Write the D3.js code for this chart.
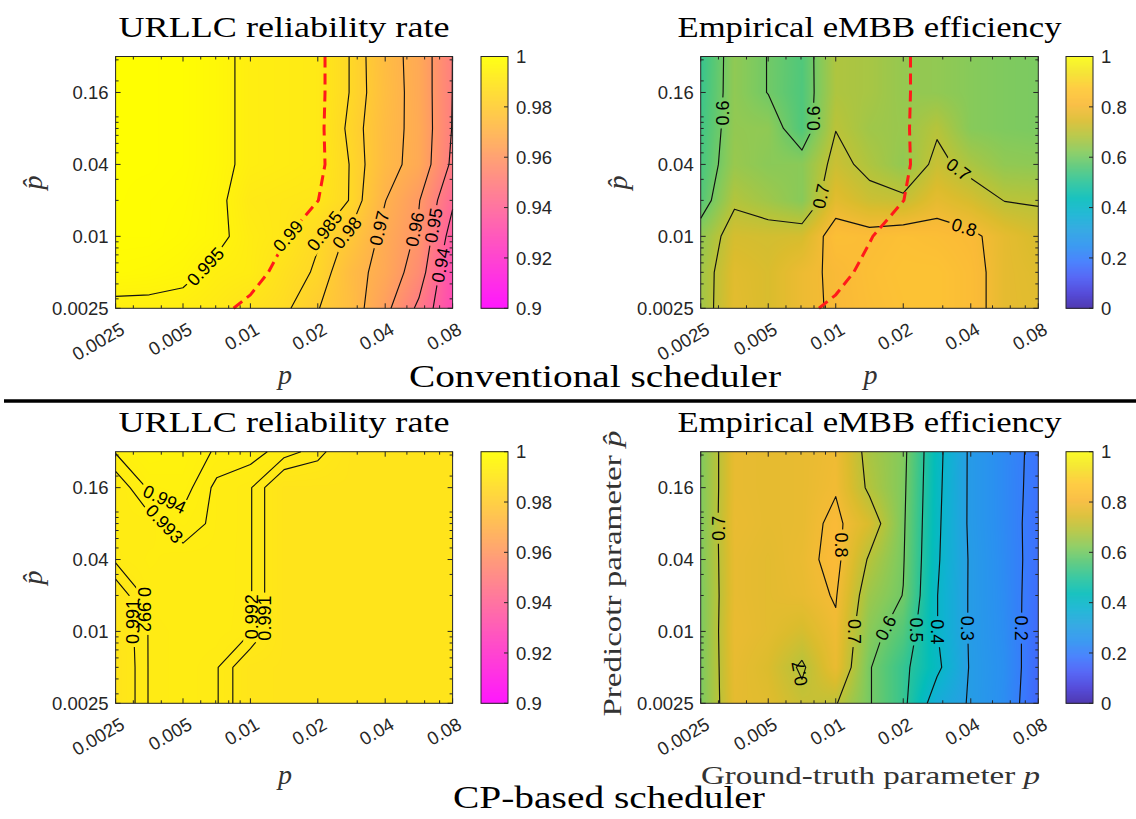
<!DOCTYPE html>
<html>
<head>
<meta charset="utf-8">
<script src="https://cdn.jsdelivr.net/npm/d3@7"></script>
<style>
  body { margin: 0; background: #fff; }
  svg { display: block; }
</style>
</head>
<body>
<svg id="fig" width="1136" height="819"></svg>
<script>
// ---------------------------------------------------------------
// Grid of the simulation: ground-truth p (columns), predictor p̂ (rows)
// ---------------------------------------------------------------
const pGrid = [0.0025, 0.003536, 0.005, 0.007071, 0.01, 0.01414, 0.02, 0.02828, 0.04, 0.05657, 0.08];
const pHatGrid = [0.0025, 0.005, 0.01, 0.02, 0.04, 0.08, 0.16, 0.32];

const pTicks = [0.0025, 0.005, 0.01, 0.02, 0.04, 0.08];
const pTickLabels = ["0.0025", "0.005", "0.01", "0.02", "0.04", "0.08"];
const pMinorTicks = [0.003, 0.004, 0.006, 0.007, 0.008, 0.009, 0.03, 0.05, 0.06, 0.07];
const pHatTicks = [0.0025, 0.01, 0.04, 0.16];
const pHatTickLabels = ["0.0025", "0.01", "0.04", "0.16"];
const pHatMinorTicks = [0.003, 0.004, 0.005, 0.006, 0.007, 0.008, 0.009, 0.02, 0.03, 0.05, 0.06, 0.07, 0.08, 0.09, 0.1, 0.2, 0.3];

const reliabilityTicks = [0.9, 0.92, 0.94, 0.96, 0.98, 1];
const reliabilityTickLabels = ["0.9", "0.92", "0.94", "0.96", "0.98", "1"];
const efficiencyTicks = [0, 0.2, 0.4, 0.6, 0.8, 1];
const efficiencyTickLabels = ["0", "0.2", "0.4", "0.6", "0.8", "1"];

// rows follow pHatGrid (0.0025 first), columns follow pGrid
const convReliability = [
  [0.9935, 0.9935, 0.993, 0.9915, 0.9885, 0.9862, 0.9803, 0.9745, 0.9625, 0.948, 0.929],
  [0.998, 0.9975, 0.9965, 0.9935, 0.9925, 0.9878, 0.9842, 0.9737, 0.9663, 0.955, 0.93],
  [0.999, 0.999, 0.998, 0.9965, 0.9925, 0.9905, 0.9855, 0.9783, 0.9674, 0.9585, 0.9355],
  [0.9995, 0.999, 0.9985, 0.9965, 0.9915, 0.9907, 0.9901, 0.9845, 0.9702, 0.9605, 0.9415],
  [0.9995, 0.9995, 0.999, 0.997, 0.9933, 0.9925, 0.9915, 0.9845, 0.9733, 0.9667, 0.948],
  [0.9995, 0.9995, 0.999, 0.997, 0.9933, 0.9925, 0.9915, 0.9834, 0.9737, 0.9671, 0.9495],
  [0.9995, 0.9995, 0.999, 0.997, 0.9933, 0.9925, 0.9915, 0.9845, 0.9745, 0.9666, 0.9498],
  [0.9995, 0.9995, 0.999, 0.997, 0.9933, 0.9925, 0.9915, 0.9845, 0.974, 0.9665, 0.9499]
];

const convEfficiency = [
  [0.66, 0.765, 0.745, 0.785, 0.808, 0.83, 0.845, 0.85, 0.825, 0.77, 0.76],
  [0.66, 0.76, 0.745, 0.785, 0.81, 0.835, 0.85, 0.85, 0.825, 0.77, 0.755],
  [0.64, 0.74, 0.735, 0.74, 0.835, 0.825, 0.84, 0.83, 0.815, 0.77, 0.74],
  [0.56, 0.687, 0.659, 0.626, 0.765, 0.725, 0.715, 0.77, 0.74, 0.698, 0.692],
  [0.545, 0.65, 0.63, 0.63, 0.723, 0.68, 0.64, 0.72, 0.675, 0.64, 0.635],
  [0.535, 0.642, 0.637, 0.555, 0.698, 0.66, 0.65, 0.691, 0.625, 0.615, 0.61],
  [0.525, 0.638, 0.598, 0.555, 0.68, 0.67, 0.645, 0.64, 0.625, 0.615, 0.61],
  [0.52, 0.638, 0.598, 0.557, 0.68, 0.67, 0.645, 0.64, 0.625, 0.615, 0.61]
];

const cpReliability = [
  [0.9895, 0.9921, 0.9925, 0.9921, 0.9898, 0.9895, 0.9895, 0.9895, 0.9895, 0.9895, 0.9895],
  [0.9895, 0.9921, 0.9925, 0.9921, 0.9898, 0.9895, 0.9895, 0.9895, 0.9895, 0.9895, 0.9895],
  [0.9897, 0.9921, 0.9925, 0.9925, 0.9921, 0.9895, 0.9895, 0.9895, 0.9895, 0.9895, 0.9895],
  [0.990, 0.9925, 0.9926, 0.9926, 0.9921, 0.9895, 0.9895, 0.9895, 0.9895, 0.9895, 0.9895],
  [0.9922, 0.9928, 0.9925, 0.9926, 0.9921, 0.9895, 0.9895, 0.9895, 0.9895, 0.9895, 0.9895],
  [0.9925, 0.9925, 0.9936, 0.9927, 0.9921, 0.9895, 0.9895, 0.9895, 0.9895, 0.9895, 0.9895],
  [0.9921, 0.9942, 0.9945, 0.9927, 0.9921, 0.9895, 0.9895, 0.9895, 0.9895, 0.9895, 0.9895],
  [0.9941, 0.9955, 0.995, 0.9938, 0.9935, 0.9925, 0.9915, 0.9895, 0.9895, 0.9895, 0.9895]
];

const cpEfficiency = [
  [0.61, 0.77, 0.76, 0.72, 0.705, 0.605, 0.52, 0.351, 0.292, 0.24, 0.15],
  [0.61, 0.775, 0.75, 0.69, 0.78, 0.605, 0.52, 0.4175, 0.292, 0.245, 0.155],
  [0.61, 0.78, 0.765, 0.74, 0.79, 0.629, 0.56, 0.402, 0.29, 0.24, 0.16],
  [0.61, 0.775, 0.765, 0.775, 0.805, 0.655, 0.598, 0.402, 0.29, 0.237, 0.165],
  [0.615, 0.775, 0.765, 0.78, 0.82, 0.69, 0.605, 0.41, 0.29, 0.235, 0.17],
  [0.615, 0.78, 0.77, 0.775, 0.815, 0.745, 0.61, 0.415, 0.285, 0.233, 0.17],
  [0.615, 0.775, 0.77, 0.775, 0.795, 0.686, 0.615, 0.42, 0.285, 0.232, 0.175],
  [0.615, 0.775, 0.77, 0.775, 0.79, 0.673, 0.62, 0.425, 0.285, 0.232, 0.178]
];

// contour levels
const convReliabilityLevels = [0.94, 0.95, 0.96, 0.97, 0.98, 0.985, 0.99, 0.995];
const convEfficiencyLevels = [0.6, 0.7, 0.8];
const cpReliabilityLevels = [0.991, 0.992, 0.993, 0.994];
const cpEfficiencyLevels = [0.2, 0.3, 0.4, 0.5, 0.6, 0.7, 0.8];
const reliabilityTarget = 0.99;

// where along each contour its label sits: [level, column index, row index, angle?, keep line?]
const convReliabilityLabelAt = [[0.995, 2.62, 1.2], [0.99, 5.08, 2.04], [0.985, 6.16, 2.18], [0.98, 6.76, 2.18],
  [0.97, 7.8, 2.23], [0.96, 8.69, 2.23], [0.95, 9.33, 2.32], [0.94, 9.63, 1.2]];
const convEfficiencyLabelAt = [[0.6, 0.65, 5.43, -90], [0.6, 3.14, 5.29, -90], [0.7, 3.58, 3.11], [0.7, 7.78, 4.04], [0.8, 7.78, 2.18]];
const cpReliabilityLabelAt = [[0.994, 1.42, 5.61], [0.993, 1.56, 5.1], [0.992, 0.77, 2.6, 90], [0.991, 0.45, 2.27, -90],
  [0.992, 3.89, 2.41, -90], [0.991, 4.38, 2.37, -90]];
const cpEfficiencyLabelAt = [[0.7, 0.49, 4.87, -90], [0.8, 4.27, 4.4, 90], [0.7, 4.62, 1.99, 90], [0.6, 5.41, 2.13],
  [0.5, 6.4, 2.04, 90], [0.4, 6.99, 1.99, 90], [0.3, 7.78, 2.09, 90], [0.2, 9.6, 2.09, 90], [0.7, 2.84, 0.79, -100, true]];

// ---------------------------------------------------------------
// colour maps
// ---------------------------------------------------------------
const springColor = d3.scaleLinear().domain([0.9, 1]).range(["#ff00ff", "#ffff00"]).clamp(true);
const parulaHex = ["#3e26a8", "#463cd7", "#485af5", "#3a78fd", "#2a91f0", "#24a2e1", "#10b2d2", "#04bdba",
  "#28c39b", "#55c878", "#87ca5a", "#b4c43c", "#dcbc2d", "#faba37", "#fec832", "#f5e224", "#f9fb15"];
const parulaStops = parulaHex.map((_, i) => i / (parulaHex.length - 1));
const parulaColor = d3.scaleLinear().domain(parulaStops).range(parulaHex).clamp(true);

// ---------------------------------------------------------------
// layout
// ---------------------------------------------------------------
const colGeom = [
  { x0: 115.6, x1: 452.6, cb0: 481, cb1: 508, center: 284 },
  { x0: 700.7, x1: 1038.3, cb0: 1066, cb1: 1093, center: 869.5 }
];
const rowGeom = [
  { top: 56.5, bot: 308.3, titleY: 37, xLabelY: 384 },
  { top: 451.7, bot: 703.3, titleY: 432, xLabelY: 784 }
];

const TICK_FONT = "'Liberation Sans', Arial, Helvetica, sans-serif";
const SERIF = "'Liberation Serif', 'Times New Roman', serif";
const AXIS_COLOR = "#262626";
const TICK_SIZE = 18.5;

const svg = d3.select("#fig");
const defs = svg.append("defs");

// turns the grid into open/closed isolines in (column, row) index space
function isolines(values, level) {
  const nx = values[0].length, ny = values.length;
  const flat = values.flat();
  const mp = d3.contours().size([nx, ny]).thresholds([level])(flat)[0];
  const onFrame = pt => pt[0] === 0 || pt[0] === nx || pt[1] === 0 || pt[1] === ny;
  const lines = [];
  mp.coordinates.forEach(poly => poly.forEach(ring => {
    const pts = ring.slice(0, -1);
    const n = pts.length;
    const frame = pts.map(onFrame);
    if (!frame.some(Boolean)) {
      lines.push(pts.concat([pts[0]]));
      return;
    }
    const start = frame.indexOf(true);
    let cur = [];
    for (let k = 1; k <= n; k++) {
      const i = (start + k) % n;
      if (frame[i]) { if (cur.length > 1) lines.push(cur); cur = []; }
      else cur.push(pts[i]);
    }
    if (cur.length > 1) lines.push(cur);
  }));
  return lines.map(l => l.map(([x, y]) => [x - 0.5, y - 0.5]));
}

function nearestOnLines(lines, px, py) {
  let best = null;
  lines.forEach(l => {
    for (let i = 0; i < l.length - 1; i++) {
      const [ax, ay] = l[i], [bx, by] = l[i + 1];
      const dx = bx - ax, dy = by - ay;
      const L2 = dx * dx + dy * dy || 1e-9;
      let t = ((px - ax) * dx + (py - ay) * dy) / L2;
      t = Math.max(0, Math.min(1, t));
      const qx = ax + t * dx, qy = ay + t * dy;
      const d = (qx - px) ** 2 + (qy - py) ** 2;
      if (!best || d < best.d) best = { d, x: qx, y: qy, dx, dy };
    }
  });
  return best;
}

const panels = [
  { values: convReliability, color: springColor, cbDomain: [0.9, 1], cbTicks: reliabilityTicks, cbLabels: reliabilityTickLabels,
    levels: convReliabilityLevels, labelAt: convReliabilityLabelAt, target: reliabilityTarget,
    title: "URLLC reliability rate", col: 0, row: 0 },
  { values: convEfficiency, color: parulaColor, cbDomain: [0, 1], cbTicks: efficiencyTicks, cbLabels: efficiencyTickLabels,
    levels: convEfficiencyLevels, labelAt: convEfficiencyLabelAt, overlay: convReliability,
    title: "Empirical eMBB efficiency", col: 1, row: 0 },
  { values: cpReliability, color: springColor, cbDomain: [0.9, 1], cbTicks: reliabilityTicks, cbLabels: reliabilityTickLabels,
    levels: cpReliabilityLevels, labelAt: cpReliabilityLabelAt,
    title: "URLLC reliability rate", col: 0, row: 1 },
  { values: cpEfficiency, color: parulaColor, cbDomain: [0, 1], cbTicks: efficiencyTicks, cbLabels: efficiencyTickLabels,
    levels: cpEfficiencyLevels, labelAt: cpEfficiencyLabelAt,
    title: "Empirical eMBB efficiency", col: 1, row: 1, longLabels: true }
];

panels.forEach((spec, idx) => {
  const { x0, x1, cb0, cb1, center } = colGeom[spec.col];
  const { top, bot, titleY, xLabelY } = rowGeom[spec.row];
  const g = svg.append("g");

  const xScale = d3.scaleLog().domain([pTicks[0], pTicks[pTicks.length - 1]]).range([x0, x1]);
  const yScale = d3.scaleLog().domain([pHatGrid[0], pHatGrid[pHatGrid.length - 1]]).range([bot, top]);
  const nx = pGrid.length, ny = pHatGrid.length;
  const colX = d3.scaleLinear().domain([0, nx - 1]).range([xScale(pGrid[0]), xScale(pGrid[nx - 1])]);
  const rowY = d3.scaleLinear().domain([0, ny - 1]).range([yScale(pHatGrid[0]), yScale(pHatGrid[ny - 1])]);
  const colOf = d3.scaleLog().domain([pGrid[0], pGrid[nx - 1]]).range([0, nx - 1]).clamp(true);
  const rowOf = d3.scaleLog().domain([pHatGrid[0], pHatGrid[ny - 1]]).range([0, ny - 1]).clamp(true);

  // interpolated colour field
  const vals = spec.values;
  const [d0, d1] = spec.cbDomain;
  const lut = d3.range(1024).map(k => d3.rgb(spec.color(d0 + (d1 - d0) * k / 1023)));
  const W = Math.round(x1 - x0), H = Math.round(bot - top);
  const canvas = document.createElement("canvas");
  canvas.width = W; canvas.height = H;
  const ctx = canvas.getContext("2d");
  const img = ctx.createImageData(W, H);
  for (let j = 0; j < H; j++) {
    const r = rowOf(yScale.invert(top + (j + 0.5) * (bot - top) / H));
    const r0 = Math.min(Math.floor(r), ny - 2), fr = r - r0;
    for (let i = 0; i < W; i++) {
      const c = colOf(xScale.invert(x0 + (i + 0.5) * (x1 - x0) / W));
      const c0 = Math.min(Math.floor(c), nx - 2), fc = c - c0;
      const v = (1 - fr) * ((1 - fc) * vals[r0][c0] + fc * vals[r0][c0 + 1]) +
                fr * ((1 - fc) * vals[r0 + 1][c0] + fc * vals[r0 + 1][c0 + 1]);
      const t = Math.max(0, Math.min(1023, Math.round((v - d0) / (d1 - d0) * 1023)));
      const col = lut[t];
      const k = 4 * (j * W + i);
      img.data[k] = col.r; img.data[k + 1] = col.g; img.data[k + 2] = col.b; img.data[k + 3] = 255;
    }
  }
  ctx.putImageData(img, 0, 0);
  g.append("image").attr("href", canvas.toDataURL()).attr("x", x0).attr("y", top)
    .attr("width", x1 - x0).attr("height", bot - top).attr("preserveAspectRatio", "none");

  // contour lines, broken where a label sits
  const maskId = "labelgap" + idx;
  const mask = defs.append("mask").attr("id", maskId).attr("maskUnits", "userSpaceOnUse")
    .attr("x", 0).attr("y", 0).attr("width", 1136).attr("height", 819);
  mask.append("rect").attr("width", 1136).attr("height", 819).attr("fill", "white");

  const line = d3.line().x(d => colX(d[0])).y(d => rowY(d[1]));
  const gLines = g.append("g").attr("mask", `url(#${maskId})`);
  const byLevel = new Map();
  spec.levels.forEach(lev => {
    const lines = isolines(vals, lev);
    byLevel.set(lev, lines);
    const isTarget = spec.target !== undefined && lev === spec.target;
    lines.forEach(l => {
      gLines.append("path").attr("d", line(l)).attr("fill", "none")
        .attr("stroke", isTarget ? "#ff1a1a" : "#111")
        .attr("stroke-width", isTarget ? 3 : 1.15)
        .attr("stroke-dasharray", isTarget ? "11,6" : null)
        .attr("stroke-linejoin", "round");
    });
  });

  // reliability target drawn over the efficiency map
  if (spec.overlay) {
    isolines(spec.overlay, reliabilityTarget).forEach(l => {
      g.append("path").attr("d", line(l)).attr("fill", "none")
        .attr("stroke", "#ff1a1a").attr("stroke-width", 3).attr("stroke-dasharray", "11,6");
    });
  }

  // contour labels
  const gLab = g.append("g");
  spec.labelAt.forEach(([lev, c, r, rot, keepLine]) => {
    const lines = byLevel.get(lev).map(l => l.map(([a, b]) => [colX(a), rowY(b)]));
    const hit = nearestOnLines(lines, colX(c), rowY(r));
    if (!hit) return;
    let ang = Math.atan2(hit.dy, hit.dx) * 180 / Math.PI;
    if (ang > 90) ang -= 180;
    if (ang <= -90) ang += 180;
    if (rot !== undefined) ang = rot;
    const tf = `translate(${hit.x},${hit.y}) rotate(${ang})`;
    const txt = gLab.append("text").attr("transform", tf).attr("text-anchor", "middle").attr("dy", "0.36em")
      .attr("font-family", TICK_FONT).attr("font-size", 18).attr("fill", "#000").text(String(lev));
    const w = txt.node().getComputedTextLength();
    if (!keepLine) {
      mask.append("rect").attr("transform", tf).attr("x", -w / 2 - 3).attr("y", -8.5).attr("width", w + 6)
        .attr("height", 17).attr("fill", "black");
    }
  });

  // axes box and ticks (inward, mirrored)
  const gAx = g.append("g").attr("stroke", AXIS_COLOR).attr("stroke-width", 1);
  const tickLine = (xA, yA, xB, yB) => gAx.append("line").attr("x1", xA).attr("y1", yA).attr("x2", xB).attr("y2", yB);
  pTicks.forEach(v => { const x = xScale(v); tickLine(x, bot, x, bot - 5); tickLine(x, top, x, top + 5); });
  pMinorTicks.forEach(v => { const x = xScale(v); tickLine(x, bot, x, bot - 3); tickLine(x, top, x, top + 3); });
  pHatTicks.forEach(v => { const y = yScale(v); tickLine(x0, y, x0 + 5, y); tickLine(x1, y, x1 - 5, y); });
  pHatMinorTicks.forEach(v => { const y = yScale(v); tickLine(x0, y, x0 + 3, y); tickLine(x1, y, x1 - 3, y); });
  gAx.append("rect").attr("x", x0).attr("y", top).attr("width", x1 - x0).attr("height", bot - top).attr("fill", "none");

  // tick labels
  pHatTicks.forEach((v, i) => {
    g.append("text").attr("x", x0 - 7).attr("y", yScale(v)).attr("dy", "0.36em").attr("text-anchor", "end")
      .attr("font-family", TICK_FONT).attr("font-size", TICK_SIZE).attr("fill", AXIS_COLOR).text(pHatTickLabels[i]);
  });
  pTicks.forEach((v, i) => {
    g.append("text").attr("transform", `translate(${xScale(v) + 7},${bot + 19}) rotate(-30)`)
      .attr("text-anchor", "end").attr("dy", "0.36em")
      .attr("font-family", TICK_FONT).attr("font-size", TICK_SIZE).attr("fill", AXIS_COLOR).text(pTickLabels[i]);
  });

  // colour bar
  const cbScale = d3.scaleLinear().domain(spec.cbDomain).range([bot, top]);
  const nStrip = Math.round(bot - top);
  const gCb = g.append("g");
  d3.range(nStrip).forEach(k => {
    const v = cbScale.invert(bot - k - 0.5);
    gCb.append("rect").attr("x", cb0).attr("y", bot - k - 1).attr("width", cb1 - cb0).attr("height", 1.4)
      .attr("fill", spec.color(v));
  });
  gCb.append("rect").attr("x", cb0).attr("y", top).attr("width", cb1 - cb0).attr("height", bot - top)
    .attr("fill", "none").attr("stroke", AXIS_COLOR).attr("stroke-width", 1);
  spec.cbTicks.forEach((v, i) => {
    const y = cbScale(v);
    gCb.append("line").attr("x1", cb1).attr("x2", cb1 - 4).attr("y1", y).attr("y2", y).attr("stroke", AXIS_COLOR);
    gCb.append("text").attr("x", cb1 + 8).attr("y", y).attr("dy", "0.36em")
      .attr("font-family", TICK_FONT).attr("font-size", TICK_SIZE).attr("fill", AXIS_COLOR).text(spec.cbLabels[i]);
  });

  // titles and axis names
  g.append("text").attr("x", center).attr("y", titleY).attr("text-anchor", "middle")
    .attr("font-family", SERIF).attr("font-size", 29).attr("fill", "#000")
    .attr("textLength", spec.col === 0 ? 331 : 384).attr("lengthAdjust", "spacingAndGlyphs").text(spec.title);

  const yMid = (top + bot) / 2;
  if (spec.longLabels) {
    const xl = g.append("text").attr("x", center + 1).attr("y", xLabelY).attr("text-anchor", "middle")
      .attr("font-family", SERIF).attr("font-size", 26).attr("fill", "#333")
      .attr("textLength", 339).attr("lengthAdjust", "spacingAndGlyphs");
    xl.append("tspan").text("Ground-truth parameter ");
    xl.append("tspan").attr("font-style", "italic").text("p");
    const yl = g.append("text").attr("transform", `translate(${x0 - 80},${yMid - 4}) rotate(-90)`)
      .attr("text-anchor", "middle").attr("font-family", SERIF).attr("font-size", 26).attr("fill", "#333")
      .attr("textLength", 286).attr("lengthAdjust", "spacingAndGlyphs");
    yl.append("tspan").text("Predicotr parameter ");
    yl.append("tspan").attr("font-style", "italic").text("p\u0302");
  } else {
    g.append("text").attr("x", center + 1).attr("y", xLabelY).attr("text-anchor", "middle")
      .attr("font-family", SERIF).attr("font-style", "italic").attr("font-size", 28).attr("fill", "#333").text("p");
    g.append("text").attr("transform", `translate(${x0 - 74},${yMid}) rotate(-90)`)
      .attr("text-anchor", "middle").attr("font-family", SERIF).attr("font-style", "italic")
      .attr("font-size", 28).attr("fill", "#333").text("p\u0302");
  }
});

// scheduler captions and divider
svg.append("text").attr("x", 595).attr("y", 387).attr("text-anchor", "middle")
  .attr("font-family", SERIF).attr("font-size", 31).attr("fill", "#000")
  .attr("textLength", 372).attr("lengthAdjust", "spacingAndGlyphs").text("Conventional scheduler");
svg.append("line").attr("x1", 4).attr("x2", 1136).attr("y1", 401).attr("y2", 401)
  .attr("stroke", "#000").attr("stroke-width", 3.5);
svg.append("text").attr("x", 609).attr("y", 808).attr("text-anchor", "middle")
  .attr("font-family", SERIF).attr("font-size", 31).attr("fill", "#000")
  .attr("textLength", 312).attr("lengthAdjust", "spacingAndGlyphs").text("CP-based scheduler");
</script>
</body>
</html>
